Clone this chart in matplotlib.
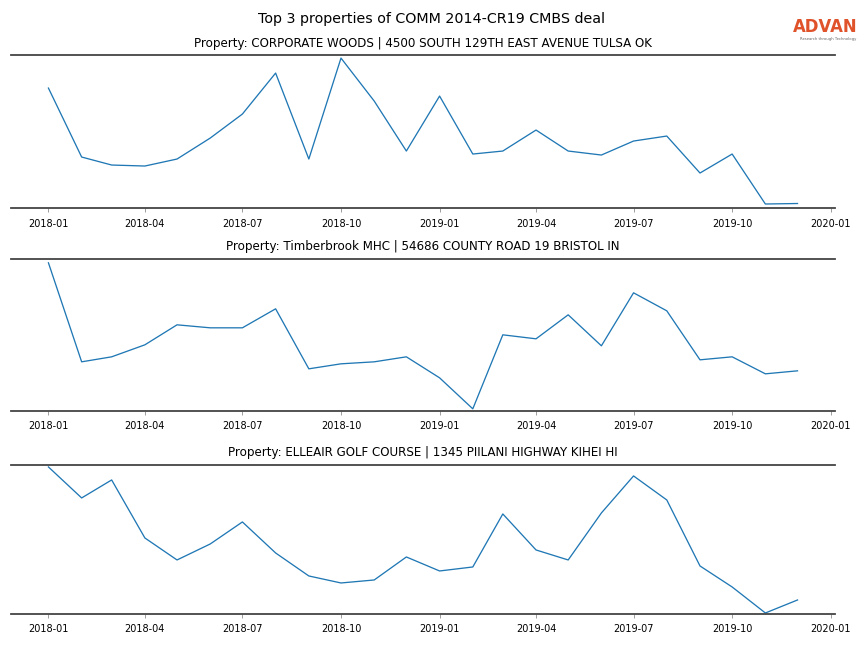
import matplotlib
matplotlib.use("Agg")
import matplotlib.pyplot as plt
import matplotlib.dates as mdates
import pandas as pd

dates = pd.date_range("2018-01-01", "2019-12-01", freq="MS")

titles = [
    "Property: CORPORATE WOODS | 4500 SOUTH 129TH EAST AVENUE TULSA OK",
    "Property: Timberbrook MHC | 54686 COUNTY ROAD 19 BRISTOL IN",
    "Property: ELLEAIR GOLF COURSE | 1345 PIILANI HIGHWAY KIHEI HI",
]

corporate_woods = [120, 51, 43, 42, 49, 70, 94, 135, 49, 150, 107, 57,
                   112, 54, 57, 78, 57, 53, 67, 72, 35, 54, 4, 4.5]
timberbrook = [148, 49, 54, 66, 86, 83, 83, 102, 42, 47, 49, 54,
               33, 2, 76, 72, 96, 65, 118, 100, 51, 54, 37, 40]
elleair = [147, 116, 134, 76, 54, 70, 92, 61, 38, 31, 34, 57,
           43, 47, 100, 64, 54, 101, 138, 114, 48, 27, 1, 14]

series = [corporate_woods, timberbrook, elleair]
ylims = [(0, 153), (0, 152), (0, 149)]

fig = plt.figure(figsize=(12, 9), dpi=72)
fig.suptitle("Top 3 properties of COMM 2014-CR19 CMBS deal", fontsize=14.3, y=0.982)

positions = [
    (0.0127, 0.679, 0.9537, 0.236),
    (0.0127, 0.366, 0.9537, 0.2346),
    (0.0127, 0.0525, 0.9537, 0.230),
]

for pos, vals, title, yl in zip(positions, series, titles, ylims):
    ax = fig.add_axes(pos)
    ax.plot(dates, vals, color="#1f77b4", linewidth=1.3)
    ax.set_ylim(*yl)
    ax.set_title(title, fontsize=11.9, pad=8.5)
    for s in ["left", "right"]:
        ax.spines[s].set_visible(False)
    for s in ["top", "bottom"]:
        ax.spines[s].set_color("#444444")
        ax.spines[s].set_linewidth(1.8)
    ax.set_yticks([])
    ax.xaxis.set_major_locator(mdates.MonthLocator(bymonth=[1, 4, 7, 10]))
    ax.xaxis.set_major_formatter(mdates.DateFormatter("%Y-%m"))
    ax.tick_params(axis="x", labelsize=9.7, length=4, width=0.8, color="#888888", pad=6.5)

fig.text(0.992, 0.944, "ADVAN", color="#E0522A", fontsize=16.5, fontweight="bold",
         ha="right", va="bottom")
fig.text(0.991, 0.937, "Research through Technology", color="#666666", fontsize=3.8,
         ha="right", va="bottom")

fig.savefig("out.png", dpi=72)
